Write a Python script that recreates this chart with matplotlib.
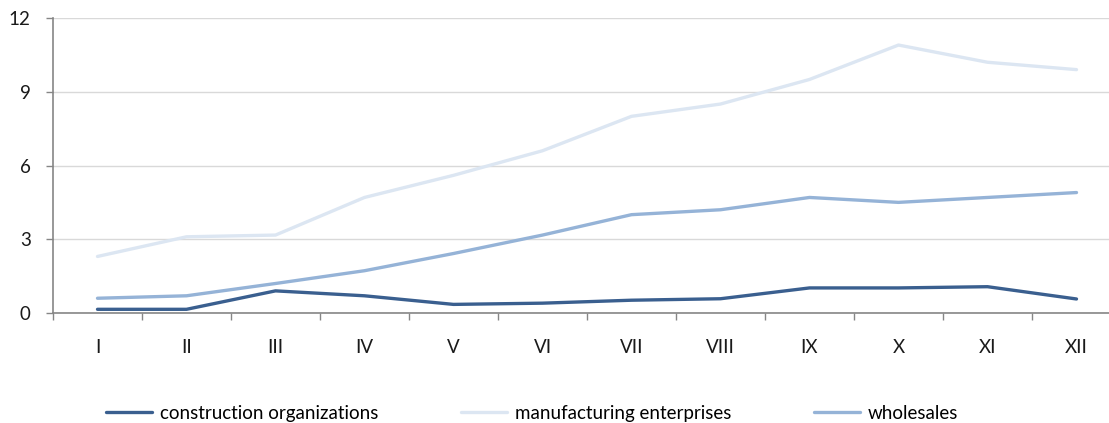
import matplotlib
matplotlib.use("Agg")
import matplotlib.pyplot as plt
import numpy as np

months = ["I", "II", "III", "IV", "V", "VI", "VII", "VIII", "IX", "X", "XI", "XII"]
construction = [0.15, 0.15, 0.9, 0.7, 0.35, 0.4, 0.52, 0.58, 1.02, 1.02, 1.07, 0.57]
manufacturing = [2.3, 3.1, 3.17, 4.7, 5.6, 6.6, 8.0, 8.5, 9.5, 10.9, 10.2, 9.9]
wholesales = [0.6, 0.7, 1.2, 1.72, 2.42, 3.17, 4.0, 4.2, 4.7, 4.5, 4.7, 4.9]
series_names = ["construction organizations", "manufacturing enterprises", "wholesales"]
colors = ["#3A5F8F", "#DCE6F2", "#95B3D7"]

plt.rcParams['font.family'] = ['Lato', 'DejaVu Sans']
W, H = 1109, 423
fig = plt.figure(figsize=(W / 100, H / 100), dpi=100)
ax = fig.add_axes([53 / W, (H - 313) / H, 1068 / W, 295 / H])

x = np.arange(len(months))
for vals, name, c in zip([construction, manufacturing, wholesales], series_names, colors):
    ax.plot(x, vals, color=c, lw=2.4, label=name, solid_capstyle='round')

fs = 13.5
ax.set_xlim(-0.5, 11.5)
ax.set_ylim(0, 12)
ax.set_yticks([0, 3, 6, 9, 12])
ax.grid(axis='y', color='#D9D9D9', lw=1)
ax.set_axisbelow(True)
ax.set_xticks(x)
ax.set_xticklabels(months)
ax.set_xticks(np.arange(-0.5, 12, 1), minor=True)
ax.tick_params(axis='x', which='major', length=0, pad=19, labelsize=fs, colors='#1a1a1a')
ax.tick_params(axis='x', which='minor', length=5, color='#868686', width=1)
ax.tick_params(axis='y', length=5, color='#868686', width=1, pad=11, labelsize=fs, labelcolor='#1a1a1a')
for s in ['top', 'right']:
    ax.spines[s].set_visible(False)
for s in ['left', 'bottom']:
    ax.spines[s].set_color('#868686')
    ax.spines[s].set_linewidth(1.2)

fig.legend(loc='center left', bbox_to_anchor=(98.5 / W, 1 - 413 / H), ncol=3, frameon=False,
           borderaxespad=0, fontsize=fs, handlelength=2.45, handletextpad=0.43, columnspacing=4.4)

fig.savefig("out.png", dpi=100)
